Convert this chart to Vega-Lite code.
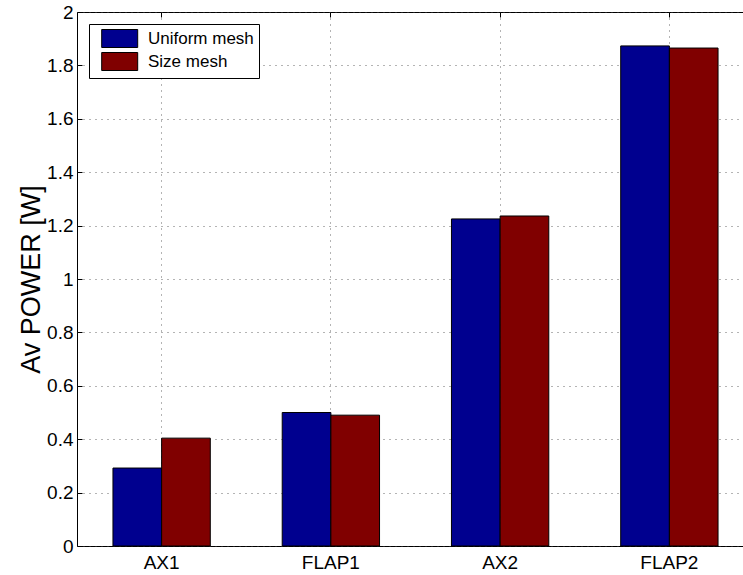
{
  "$schema": "https://vega.github.io/schema/vega-lite/v6.json",
  "width": 677,
  "height": 534,
  "autosize": "none",
  "padding": {"left": 77, "top": 12, "right": 0, "bottom": 29},
  "background": "white",
  "config": {
    "font": "Liberation Sans",
    "view": {"stroke": "black", "strokeWidth": 1},
    "axis": {
      "labelFont": "Liberation Sans",
      "titleFont": "Liberation Sans",
      "labelFontSize": 19,
      "labelColor": "black",
      "domainColor": "black",
      "tickColor": "black",
      "gridColor": "#444",
      "gridDash": [1, 5],
      "gridWidth": 1,
      "gridOpacity": 0.8
    }
  },
  "data": {
    "values": [
      {"case": "AX1", "mesh": "Uniform mesh", "power": 0.292},
      {"case": "AX1", "mesh": "Size mesh", "power": 0.404},
      {"case": "FLAP1", "mesh": "Uniform mesh", "power": 0.500},
      {"case": "FLAP1", "mesh": "Size mesh", "power": 0.490},
      {"case": "AX2", "mesh": "Uniform mesh", "power": 1.225},
      {"case": "AX2", "mesh": "Size mesh", "power": 1.236},
      {"case": "FLAP2", "mesh": "Uniform mesh", "power": 1.873},
      {"case": "FLAP2", "mesh": "Size mesh", "power": 1.865}
    ]
  },
  "layer": [
    {
      "mark": {"type": "bar", "stroke": "black", "strokeWidth": 1},
      "encoding": {
        "x": {
          "field": "case",
          "type": "nominal",
          "sort": ["AX1", "FLAP1", "AX2", "FLAP2"],
          "scale": {"paddingInner": 0.425, "paddingOuter": 0.2125},
          "axis": {
            "title": null,
            "labelAngle": 0,
            "orient": "bottom",
            "tickSize": -5,
            "labelFontSize": 19,
            "labelPadding": 12,
            "grid": true,
            "bandPosition": 0.5,
            "domain": false
          }
        },
        "xOffset": {
          "field": "mesh",
          "type": "nominal",
          "sort": ["Uniform mesh", "Size mesh"],
          "scale": {"paddingInner": 0, "paddingOuter": 0}
        },
        "y": {
          "field": "power",
          "type": "quantitative",
          "scale": {"domain": [0, 2], "nice": false},
          "axis": {
            "title": "Av POWER [W]",
            "titleFontSize": 27,
            "titleFontWeight": "normal",
            "titleColor": "black",
            "titlePadding": 1,
            "values": [0, 0.2, 0.4, 0.6, 0.8, 1, 1.2, 1.4, 1.6, 1.8, 2],
            "format": "~g",
            "tickSize": -5,
            "labelFontSize": 19,
            "labelPadding": 9,
            "grid": true,
            "domain": false
          }
        },
        "color": {
          "field": "mesh",
          "type": "nominal",
          "sort": ["Uniform mesh", "Size mesh"],
          "scale": {"range": ["#00008F", "#800000"]},
          "legend": {
            "title": null,
            "orient": "top-left",
            "offset": 12,
            "padding": 5,
            "strokeColor": "black",
            "fillColor": "white",
            "symbolType": "M-0.2,-1H3.8V1H-0.2Z",
            "symbolSize": 324,
            "symbolStrokeColor": "black",
            "symbolStrokeWidth": 1,
            "symbolOpacity": 1,
            "labelFontSize": 17,
            "labelFont": "Liberation Sans",
            "labelColor": "black",
            "labelOffset": 35,
            "rowPadding": 0
          }
        }
      }
    },
    {
      "mark": {"type": "tick", "opacity": 0},
      "encoding": {
        "x": {
          "field": "case",
          "type": "nominal",
          "sort": ["AX1", "FLAP1", "AX2", "FLAP2"],
          "axis": {
            "title": null,
            "orient": "top",
            "labels": false,
            "tickSize": -5,
            "grid": false,
            "bandPosition": 0.5,
            "domain": false
          }
        },
        "y": {"field": "power", "type": "quantitative"}
      }
    }
  ],
  "resolve": {"axis": {"x": "independent"}}
}
